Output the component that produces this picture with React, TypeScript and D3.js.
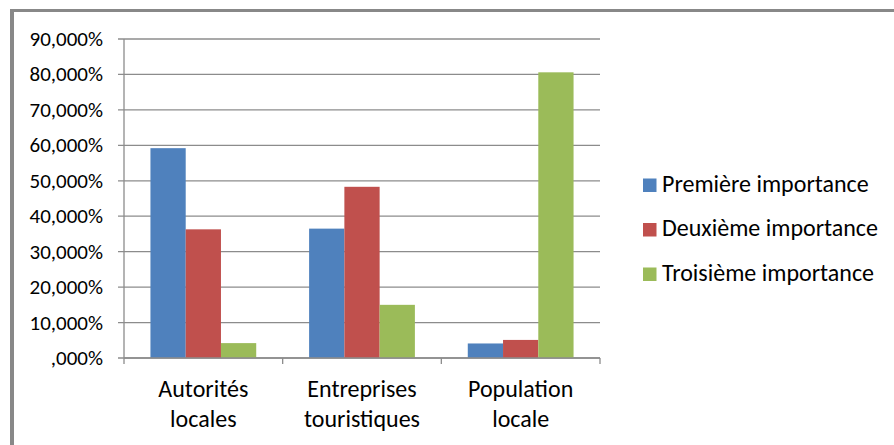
import React from "react";
import * as d3 from "d3";

const categories = [["Autorités", "locales"], ["Entreprises", "touristiques"], ["Population", "locale"]];
const categoryKeys = ["Autorités locales", "Entreprises touristiques", "Population locale"];
const seriesNames = ["Première importance", "Deuxième importance", "Troisième importance"];
const seriesColors = ["#4F81BD", "#C0504D", "#9BBB59"];
const premiere = [59.2, 36.5, 4.1];
const deuxieme = [36.3, 48.3, 5.1];
const troisieme = [4.2, 15.0, 80.6];
const yTicks = [0, 10, 20, 30, 40, 50, 60, 70, 80, 90];

const W = 894, H = 445;
const plot = { left: 124, right: 600, top: 39, bottom: 358 };
const FONT = "Carlito, Calibri, 'Open Sans', 'Noto Sans', sans-serif";

function fmt(v: number) {
  return v === 0 ? ",000%" : `${v},000%`;
}

export default function App() {
  const series = [premiere, deuxieme, troisieme];
  const x = d3.scaleBand().domain(categoryKeys).range([plot.left, plot.right]).paddingInner(0).paddingOuter(0);
  const inner = d3.scaleBand().domain(seriesNames).range([0, x.bandwidth()]).paddingInner(0).paddingOuter(0.75);
  const y = d3.scaleLinear().domain([0, 90]).range([plot.bottom, plot.top]);
  const gridColor = "#8c8c8c";

  return (
    <svg width={W} height={H} style={{ position: "absolute", left: 0, top: 0, background: "#fff" }} fontFamily={FONT}>
      <rect x={0} y={0} width={W} height={H} fill="#fff" />
      {/* outer border */}
      <line x1={12} y1={10.5} x2={W} y2={10.5} stroke="#888" strokeWidth={3} />
      <line x1={12} y1={9} x2={12} y2={H} stroke="#888" strokeWidth={4} />
      {/* gridlines */}
      {yTicks.map((t) => (
        <g key={t}>
          <line x1={plot.left - 6} x2={plot.right} y1={y(t)} y2={y(t)} stroke={gridColor} strokeWidth={1.3} />
          <text x={103} y={y(t) + 7} textAnchor="end" fontSize={21} fill="#000">{fmt(t)}</text>
        </g>
      ))}
      {/* bars */}
      {series.map((vals, si) =>
        categoryKeys.map((c, ci) => (
          <rect
            key={`${si}-${ci}`}
            x={(x(c) as number) + (inner(seriesNames[si]) as number)}
            y={y(vals[ci])}
            width={inner.bandwidth()}
            height={plot.bottom - y(vals[ci])}
            fill={seriesColors[si]}
          />
        ))
      )}
      {/* axes */}
      <line x1={plot.left} x2={plot.left} y1={plot.top} y2={plot.bottom} stroke={gridColor} strokeWidth={1.3} />
      <line x1={plot.left} x2={plot.right} y1={plot.bottom} y2={plot.bottom} stroke={gridColor} strokeWidth={1.3} />
      {[...categoryKeys.map((c) => x(c) as number), plot.right].map((px, i) => (
        <line key={i} x1={px} x2={px} y1={plot.bottom} y2={plot.bottom + 6} stroke={gridColor} strokeWidth={1.3} />
      ))}
      {categories.map((lines, ci) => (
        <text key={ci} textAnchor="middle" fontSize={24} fill="#000">
          {lines.map((l, li) => (
            <tspan key={li} x={(x(categoryKeys[ci]) as number) + x.bandwidth() / 2} y={397 + li * 30}>{l}</tspan>
          ))}
        </text>
      ))}
      {/* legend */}
      {seriesNames.map((n, i) => (
        <g key={n} transform={`translate(643, ${191.5 + i * 44.5})`}>
          <rect x={0} y={-13} width={13.5} height={13.5} fill={seriesColors[i]} />
          <text x={19} y={0} fontSize={24} fill="#000">{n}</text>
        </g>
      ))}
    </svg>
  );
}
